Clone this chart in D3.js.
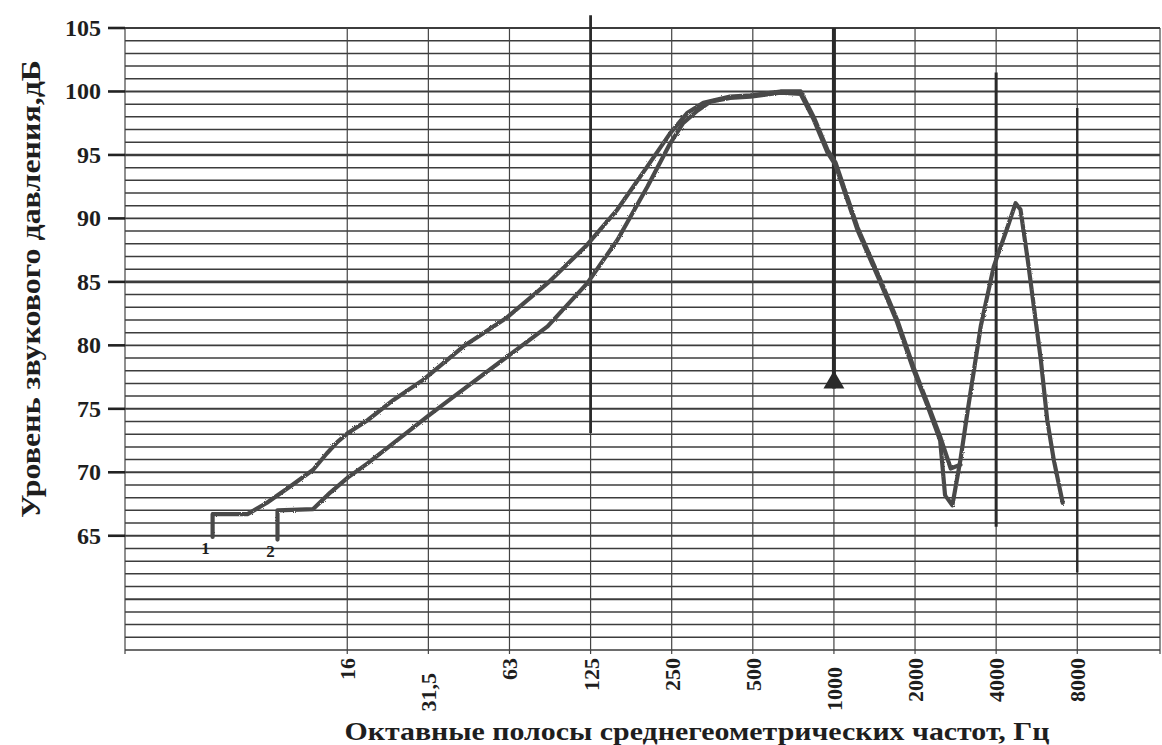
<!DOCTYPE html>
<html>
<head>
<meta charset="utf-8">
<style>
  body { margin: 0; background: #fff; }
  svg text { font-family: "Liberation Serif", "Times New Roman", serif; font-weight: bold; fill: #1e1e1e; }
</style>
</head>
<body>
<svg id="chart" width="1162" height="745"></svg>
<script src="https://cdn.jsdelivr.net/npm/d3@7/dist/d3.min.js"></script>
<script>
// octave bands, x position = octave index counted from 16 Hz
var octaveLabels = ["16", "31,5", "63", "125", "250", "500", "1000", "2000", "4000", "8000"];
var yTicks = [65, 70, 75, 80, 85, 90, 95, 100, 105];

// curve 1: [octave index, dB]
var curve1 = [
  [-1.66, 64.9], [-1.66, 66.7], [-1.23, 66.7], [-0.99, 67.6], [-0.70, 68.9], [-0.42, 70.2],
  [-0.25, 71.5], [-0.12, 72.4], [0.01, 73.1], [0.25, 74.1], [0.57, 75.7], [0.94, 77.3],
  [1.43, 79.9], [1.97, 82.2], [2.47, 84.9], [2.94, 87.8], [3.33, 90.7], [3.70, 94.1],
  [3.98, 96.7], [4.19, 98.3], [4.39, 99.1], [4.72, 99.6], [4.97, 99.7], [5.34, 100.0],
  [5.59, 100.0], [5.75, 98.0], [5.92, 95.4], [6.02, 94.4], [6.29, 89.3], [6.57, 85.2],
  [6.78, 82.0], [6.98, 78.3], [7.15, 75.5], [7.31, 72.8], [7.44, 70.3], [7.56, 70.6]
];
// curve 2
var curve2 = [
  [-0.86, 64.7], [-0.86, 67.0], [-0.42, 67.1], [-0.21, 68.4], [0.01, 69.6], [0.25, 70.7],
  [0.57, 72.3], [0.99, 74.4], [1.30, 75.9], [1.97, 79.1], [2.47, 81.5], [2.96, 84.9],
  [3.33, 88.3], [3.70, 92.5], [3.98, 95.9], [4.14, 97.5], [4.32, 98.5], [4.48, 99.2],
  [4.72, 99.5], [4.97, 99.6], [5.34, 99.9], [5.59, 99.8], [5.75, 97.8], [5.92, 95.2],
  [6.02, 94.2], [6.29, 89.1], [6.57, 85.0], [6.78, 81.8], [6.98, 78.1], [7.15, 75.3],
  [7.31, 72.5], [7.37, 68.2], [7.46, 67.4], [7.56, 71.0], [7.65, 74.9], [7.81, 81.5],
  [7.97, 86.2], [8.14, 89.3], [8.24, 91.2], [8.30, 90.7], [8.39, 86.7], [8.55, 78.9],
  [8.63, 74.1], [8.71, 71.0], [8.82, 67.6]
];
var curveNames = ["1", "2"];

// vertical marker bars (octave index, top dB, bottom dB)
var markerIdx = [3, 6, 8, 9];
var markerTop = [106.0, 105.0, 101.5, 98.7];
var markerBottom = [73.1, 76.6, 65.7, 62.1];

var yTitle = "Уровень звукового давления,дБ";
var xTitle = "Октавные полосы среднегеометрических частот, Гц";

var svg = d3.select("#chart");
var x = d3.scaleLinear().domain([-2.74, 10.02]).range([125, 1160]);
var y = d3.scaleLinear().domain([56, 105]).range([650, 28]);

// pencil-like roughness for the hand drawn curves
var defs = svg.append("defs");
var f = defs.append("filter").attr("id", "rough").attr("x", "-5%").attr("y", "-5%").attr("width", "110%").attr("height", "110%");
f.append("feTurbulence").attr("type", "fractalNoise").attr("baseFrequency", 0.9).attr("numOctaves", 2).attr("result", "noise");
f.append("feDisplacementMap").attr("in", "SourceGraphic").attr("in2", "noise").attr("scale", 2.2);

//horizontal grid, one line per dB
svg.append("g").selectAll("line")
  .data(d3.range(56, 106))
  .enter().append("line")
  .attr("x1", x(-2.74)).attr("x2", x(10.02))
  .attr("y1", function(d) { return y(d); })
  .attr("y2", function(d) { return y(d); })
  .attr("stroke", "#3c3c3c")
  .attr("stroke-width", function(d) { return (d == 95 || d == 85) ? 2.6 : (d % 5 == 0 ? 1.9 : 1.5); });

//vertical grid
var vLines = d3.range(0, 10).concat([-2.74, 10.02]);
svg.append("g").selectAll("line")
  .data(vLines)
  .enter().append("line")
  .attr("x1", function(d) { return x(d); })
  .attr("x2", function(d) { return x(d); })
  .attr("y1", y(105)).attr("y2", y(56) + 4)
  .attr("stroke", "#444")
  .attr("stroke-width", 1.2);

//y ticks + labels
var yt = svg.append("g");
yt.selectAll("line")
  .data(yTicks)
  .enter().append("line")
  .attr("x1", 108).attr("x2", x(-2.74))
  .attr("y1", function(d) { return y(d); })
  .attr("y2", function(d) { return y(d); })
  .attr("stroke", "#222").attr("stroke-width", 2.6);
yt.selectAll("text")
  .data(yTicks)
  .enter().append("text")
  .attr("x", 101)
  .attr("y", function(d) { return y(d); })
  .attr("dy", "0.33em")
  .attr("text-anchor", "end")
  .attr("font-size", "24px")
  .text(function(d) { return d; });

//x labels, rotated
var shift = { "31,5": 15, "1000": 9 };
svg.append("g").selectAll("text")
  .data(octaveLabels)
  .enter().append("text")
  .attr("transform", function(d, i) {
    return "translate(" + (x(i) + 8) + "," + (658 + (shift[d] || 0)) + ") rotate(-90)";
  })
  .attr("text-anchor", "end")
  .attr("font-size", "22px")
  .text(function(d) { return d; });

//titles
svg.append("text")
  .attr("x", 697).attr("y", 740)
  .attr("text-anchor", "middle")
  .attr("font-size", "25px")
  .attr("textLength", 705).attr("lengthAdjust", "spacingAndGlyphs")
  .text(xTitle);
svg.append("text")
  .attr("transform", "translate(40,289) rotate(-90)")
  .attr("text-anchor", "middle")
  .attr("font-size", "27px")
  .attr("textLength", 458).attr("lengthAdjust", "spacingAndGlyphs")
  .text(yTitle);

//marker bars
var mk = svg.append("g");
mk.selectAll("line")
  .data(markerIdx)
  .enter().append("line")
  .attr("x1", function(d) { return x(d); })
  .attr("x2", function(d) { return x(d); })
  .attr("y1", function(d, i) { return y(markerTop[i]); })
  .attr("y2", function(d, i) { return y(markerBottom[i]); })
  .attr("stroke", "#2a2a2a")
  .attr("stroke-width", function(d, i) { return [2.8, 4, 3, 2.4][i]; });
mk.append("path")
  .attr("d", d3.symbol(d3.symbolTriangle, 190)())
  .attr("transform", "translate(" + x(markerIdx[1]) + "," + (y(markerBottom[1]) - 6) + ")")
  .attr("fill", "#2a2a2a");

//curves
var line = d3.line()
  .x(function(d) { return x(d[0]); })
  .y(function(d) { return y(d[1]); });
[curve1, curve2].forEach(function(c) {
  svg.append("path")
    .attr("d", line(c))
    .attr("fill", "none")
    .attr("stroke", "#4a4a4a")
    .attr("stroke-width", 4.2)
    .attr("stroke-linejoin", "round")
    .attr("stroke-linecap", "round")
    .attr("filter", "url(#rough)");
});

//curve numbers
svg.append("g").selectAll("text")
  .data(curveNames)
  .enter().append("text")
  .attr("x", function(d, i) { return x([curve1, curve2][i][0][0]) - 7; })
  .attr("y", function(d, i) { return y([curve1, curve2][i][0][1]) + 17; })
  .attr("text-anchor", "middle")
  .attr("font-size", "17px")
  .text(function(d) { return d; });
</script>
</body>
</html>
